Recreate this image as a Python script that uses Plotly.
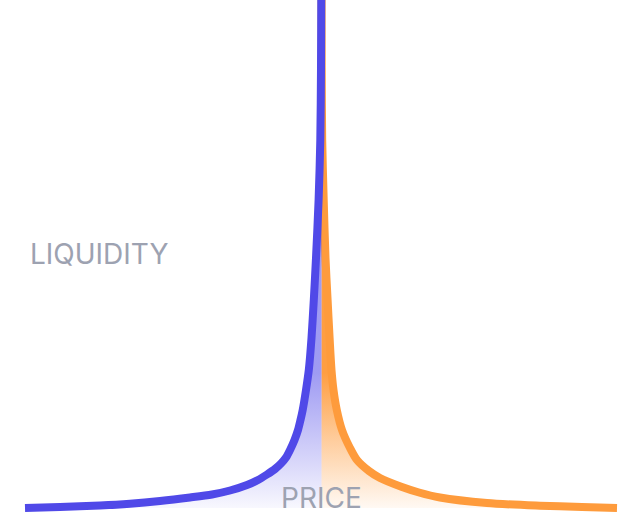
import plotly.graph_objects as go

# Liquidity curves (price units ~ px, liquidity units ~ px above baseline)
buy_price = [25, 60, 100, 130, 160, 190, 212, 230, 247, 258, 267, 275, 281, 286, 290.5,
             294.5, 298, 300.5, 302.7, 306, 308.8, 311.5, 313.8, 316, 318.6, 320.3,
             321.0, 321.3, 321.5]
buy_liq = [0, 1, 2.5, 4.3, 7, 10.5, 13.5, 17.5, 23, 28, 33.5, 39, 44.5, 50.5, 59,
           68, 78, 88, 98, 118, 138, 170, 208, 250, 308, 368,
           440, 520, 600]

sell_price = [321.5, 321.6, 321.7, 322.2, 323.7, 325.5, 327.6, 329.6, 331.5, 333.5, 336.8,
              342, 350, 357, 369, 380, 402, 419, 440, 487, 540, 582, 617]
sell_liq = [600, 520, 440, 368, 308, 250, 208, 170, 138, 118, 98,
            78, 60, 48, 37, 30, 21, 15.5, 10.5, 5, 2.3, 1, 0]

BLUE = "#5049E8"
ORANGE = "#FE9B3C"
TEXT = "#9DA2B1"

fig = go.Figure()

fig.add_trace(go.Scatter(
    x=sell_price, y=sell_liq, mode="lines",
    line=dict(color=ORANGE, width=8, shape="spline", smoothing=0.8),
    fill="tozeroy",
    fillgradient=dict(type="vertical", start=0, stop=135,
                      colorscale=[[0, "rgba(254,155,60,0.06)"],
                                  [0.5, "rgba(254,155,60,0.5)"],
                                  [1, "rgba(254,155,60,0.97)"]]),
    hoverinfo="skip", showlegend=False,
))

fig.add_trace(go.Scatter(
    x=buy_price, y=buy_liq, mode="lines",
    line=dict(color=BLUE, width=8, shape="spline", smoothing=0.8),
    fill="tozeroy",
    fillgradient=dict(type="vertical", start=0, stop=135,
                      colorscale=[[0, "rgba(80,73,232,0.04)"],
                                  [0.3, "rgba(80,73,232,0.2)"],
                                  [1, "rgba(80,73,232,0.55)"]]),
    hoverinfo="skip", showlegend=False,
))

fig.add_annotation(text="LIQUIDITY", xref="paper", yref="paper",
                   x=0.0431, y=0.503, xanchor="left", yanchor="middle",
                   showarrow=False, font=dict(family="Inter", size=28, color=TEXT))
fig.add_annotation(text="PRICE", xref="paper", yref="paper",
                   x=0.5, y=0.0283, xanchor="center", yanchor="middle",
                   showarrow=False, font=dict(family="Inter", size=28, color=TEXT))

fig.update_layout(
    width=643, height=512,
    margin=dict(l=0, r=0, t=0, b=0),
    paper_bgcolor="white", plot_bgcolor="white",
    xaxis=dict(range=[0, 643], visible=False, fixedrange=True),
    yaxis=dict(range=[-4, 508], visible=False, fixedrange=True),
)

fig.write_html("out.html", config={"displayModeBar": False},
               post_script="document.body.style.margin='0';document.body.style.padding='0';")
